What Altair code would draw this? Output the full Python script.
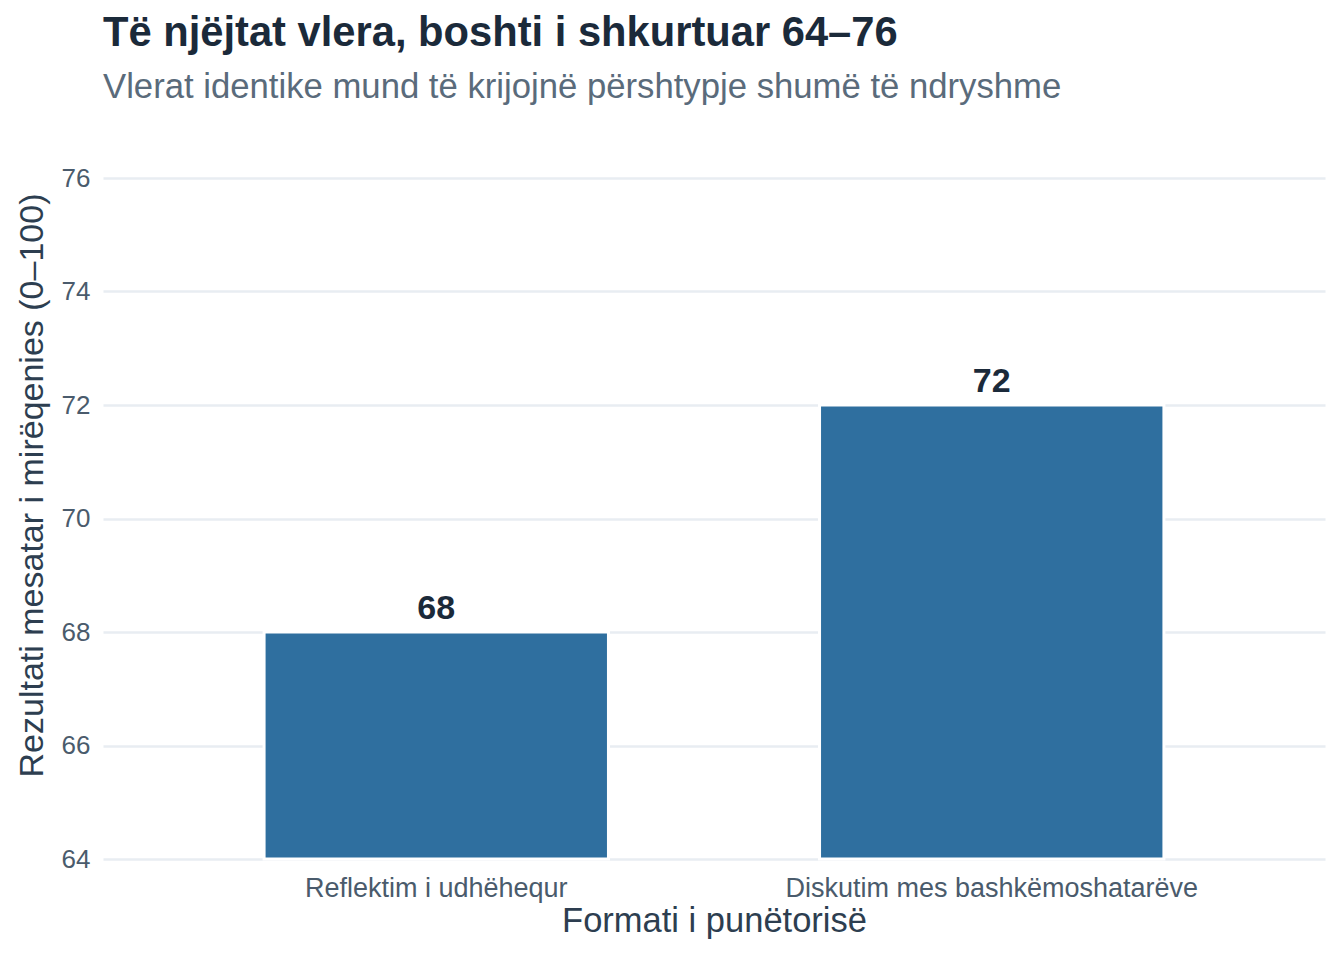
import pandas as pd
import altair as alt

# data
formats = ["Reflektim i udhëhequr", "Diskutim mes bashkëmoshatarëve"]
scores = [68, 72]
y_ticks = [64, 66, 68, 70, 72, 74, 76]

df = pd.DataFrame({"format": formats, "score": scores})

font = "Liberation Sans"

# shared encodings so both layers get the same axes
x_enc = alt.X("format:N", sort=formats, title="Formati i punëtorisë",
              scale=alt.Scale(paddingInner=0.38, paddingOuter=0.29),
              axis=alt.Axis(labelAngle=0, labelLimit=0, labelPadding=16, titlePadding=3))
y_enc = alt.Y("score:Q", title="Rezultati mesatar i mirëqenies (0–100)",
              scale=alt.Scale(domain=[64, 76], zero=False, nice=False),
              axis=alt.Axis(values=y_ticks, format="d", labelPadding=13, titlePadding=12,
                            titleFontSize=34, titleY=307))

base = alt.Chart(df).encode(x=x_enc, y=y_enc)

bars = base.mark_bar(color="#2f6f9f", stroke="white", strokeWidth=3).encode(
    y2=alt.datum(64)
)

labels = base.mark_text(font=font, fontSize=34, fontWeight="bold", color="#1b2a3a",
                        baseline="alphabetic", dy=-13).encode(
    text=alt.Text("score:Q")
)

chart = (bars + labels).properties(
    width=1222,
    height=681,
    title=alt.TitleParams(
        text="Të njëjtat vlera, boshti i shkurtuar 64–76",
        subtitle="Vlerat identike mund të krijojnë përshtypje shumë të ndryshme",
        anchor="start", frame="group", fontSize=41.7, fontWeight="bold", color="#1b2a3a",
        subtitleFontSize=34.7, subtitleColor="#5a6b7b", subtitlePadding=17,
        offset=60, font=font, subtitleFont=font,
    ),
    padding={"left": 7, "top": 4, "right": 5, "bottom": 5},
).configure_view(strokeWidth=0).configure_axis(
    labelFont=font, titleFont=font,
    labelFontSize=27, labelColor="#4a5b6c",
    titleFontSize=34.5, titleColor="#2d3e50", titleFontWeight="normal",
    domain=False, ticks=False, gridColor="#e8edf2", gridWidth=2.5,
).configure_axisY(labelFontSize=26).configure_axisX(grid=False)

chart.save("out.html", embed_options={"renderer": "svg", "actions": False})
